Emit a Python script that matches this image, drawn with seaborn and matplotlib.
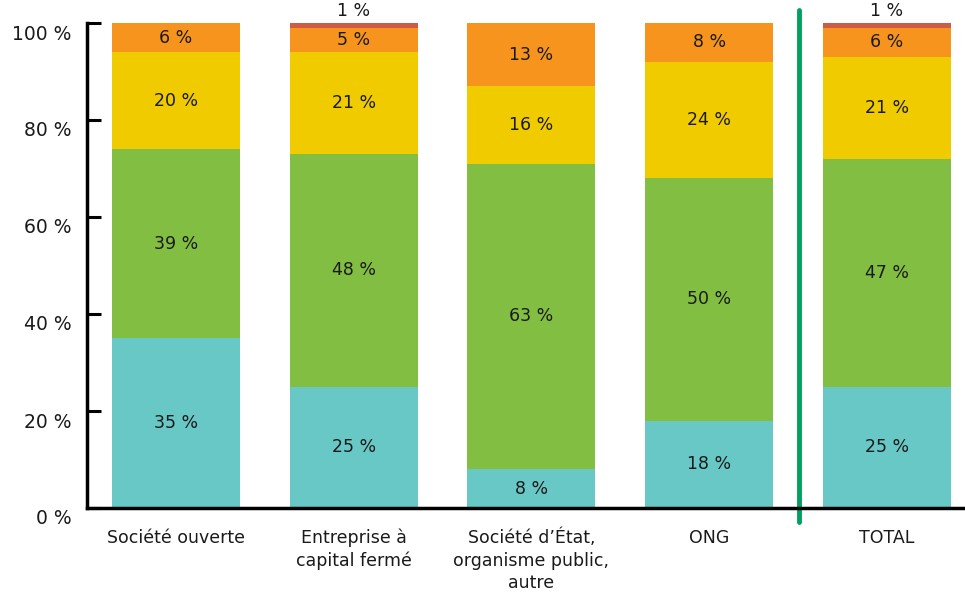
import numpy as np
import pandas as pd
import seaborn as sns
import matplotlib.pyplot as plt
import matplotlib.transforms as mtransforms

# data
categories = ["Société ouverte", "Entreprise à\ncapital fermé",
              "Société d’État,\norganisme public,\nautre", "ONG", "TOTAL"]
seg_cyan = [35, 25, 8, 18, 25]
seg_green = [39, 48, 63, 50, 47]
seg_yellow = [20, 21, 16, 24, 21]
seg_orange = [6, 5, 13, 8, 6]
seg_red = [0, 1, 0, 0, 1]

colors = ["#68C8C6", "#82BE41", "#F0CB00", "#F7941D", "#CD5C45"]
layers = [seg_cyan, seg_green, seg_yellow, seg_orange, seg_red]

sns.set_style("white")
plt.rcParams['font.family'] = ['DejaVu Sans']

fig = plt.figure(figsize=(9.65, 5.98), dpi=100)
ax = fig.add_axes([87 / 965, 1 - 508 / 598, 1 - 87 / 965, 485 / 598])

vals = np.array(layers, dtype=float)
cum = np.cumsum(vals, axis=0)

# draw cumulative bars from the top layer down so they stack
for i in range(len(layers) - 1, -1, -1):
    df = pd.DataFrame({"cat": categories, "val": cum[i]})
    sns.barplot(data=df, x="cat", y="val", color=colors[i], saturation=1,
                width=0.72, ax=ax, linewidth=0)

# segment labels
for j in range(len(categories)):
    for i in range(len(layers)):
        v = vals[i, j]
        if v <= 0:
            continue
        bottom = cum[i, j] - v
        if v < 3:
            ax.text(j, 102.5, f"{int(v)} %", ha="center", va="center",
                    fontsize=12.5, color="#1a1a1a", clip_on=False)
        else:
            ax.text(j, bottom + v / 2, f"{int(v)} %", ha="center", va="center",
                    fontsize=12.5, color="#1a1a1a")

ax.set_xlim(-0.5, 4.44)
ax.set_ylim(0, 100)
ax.set_xlabel("")
ax.set_ylabel("")

# separator before total
ax.axvline(3.505, ymin=-0.029, ymax=1.027, color="#00A160", lw=3.5, clip_on=False)

ax.set_yticks([0, 20, 40, 60, 80, 100])
ax.set_yticklabels([f"{t} %" for t in [0, 20, 40, 60, 80, 100]])
ax.tick_params(axis="y", direction="in", length=10, width=2.2, pad=11,
               labelsize=13.5, colors="black", left=True)
ax.tick_params(axis="x", length=0, pad=15, labelsize=12.5)
for lab in ax.get_xticklabels():
    lab.set_linespacing(1.3)
    lab.set_color("#1a1a1a")

offset = mtransforms.ScaledTranslation(0, -0.09, fig.dpi_scale_trans)
for lab in ax.get_yticklabels():
    lab.set_transform(lab.get_transform() + offset)
    lab.set_color("#1a1a1a")

sns.despine(ax=ax, top=True, right=True)
ax.spines["left"].set_linewidth(2.5)
ax.spines["bottom"].set_linewidth(2.5)
ax.spines["left"].set_color("black")
ax.spines["bottom"].set_color("black")

plt.savefig("out.png", dpi=100)
